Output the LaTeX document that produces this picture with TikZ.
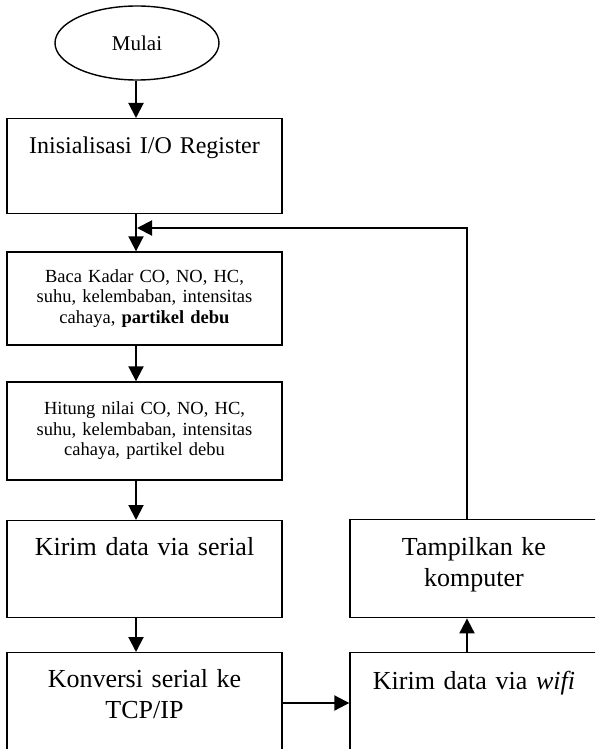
\documentclass[tikz,border=0pt]{standalone}
\usepackage{fontspec}
\setmainfont{Liberation Serif}
\usetikzlibrary{arrows.meta,shapes.geometric}

\begin{document}
\begin{tikzpicture}[
  x=1pt, y=-1pt,
  every node/.style={font=\fontsize{26}{31}\selectfont},
  flow/.style={line width=2pt,-{Triangle[length=15pt,width=15pt]}},
  box/.style={draw,line width=1.4pt,inner sep=0pt,align=center},
  leftbox/.style={box,text width=275pt},
  rightbox/.style={box,text width=248pt},
  topbox/.style={anchor=north,text height=35pt},
  smalltxt/.style={font=\fontsize{18.5}{20.5}\selectfont}
]

% ---- canvas ----
\useasboundingbox (0,0) rectangle (595,749);
\clip (0,0) rectangle (595,749);

% ---- lanes for the connectors ----
\coordinate (lane) at (136,0);
\coordinate (rlane) at (467,0);
\coordinate (join) at (137,228);

% ---- start ----
\node[ellipse,draw,line width=1.4pt,minimum width=164pt,minimum height=74pt,
  inner sep=0pt,font=\fontsize{21}{25}\selectfont] (start) at (137,43) {Mulai};

% ---- left column ----
\node[leftbox,topbox,text depth=60pt,font=\fontsize{24}{29}\selectfont] (init)
  at (144.5,118) {Inisialisasi I/O Register};

\node[leftbox,smalltxt,minimum height=93pt] (baca) at (144.5,298.5)
  {Baca Kadar CO, NO, HC,\\ suhu, kelembaban, intensitas\\ cahaya, \textbf{partikel debu}};

\node[leftbox,smalltxt,minimum height=98pt] (hitung) at (144.5,431)
  {Hitung nilai CO, NO, HC,\\ suhu, kelembaban, intensitas\\ cahaya, partikel debu};

\node[leftbox,topbox,text depth=62pt] (serial) at (144.5,520)
  {Kirim data via serial};

\node[leftbox,topbox,text depth=75pt] (konversi) at (144.5,652)
  {Konversi serial ke\\ TCP/IP};

% ---- right column ----
\node[rightbox,topbox,text height=36pt,text depth=62pt] (tampil) at (474,519)
  {Tampilkan ke\\ komputer};

\node[rightbox,topbox,text height=37pt,text depth=75pt] (wifi) at (474,652)
  {Kirim data via \textit{wifi}};

% ---- connectors ----
\draw[flow] (start.south -| lane) -- (init.north -| lane);
\draw[flow] (init.south -| lane) -- (baca.north -| lane);
\draw[flow] (baca.south -| lane) -- (hitung.north -| lane);
\draw[flow] (hitung.south -| lane) -- (serial.north -| lane);
\draw[flow] (serial.south -| lane) -- (konversi.north -| lane);
\draw[flow] (konversi.east |- 0,703) -- (wifi.west |- 0,703);
\draw[flow] (wifi.north -| rlane) -- (tampil.south -| rlane);
\draw[flow] (tampil.north -| rlane) |- (join);

\end{tikzpicture}
\end{document}
